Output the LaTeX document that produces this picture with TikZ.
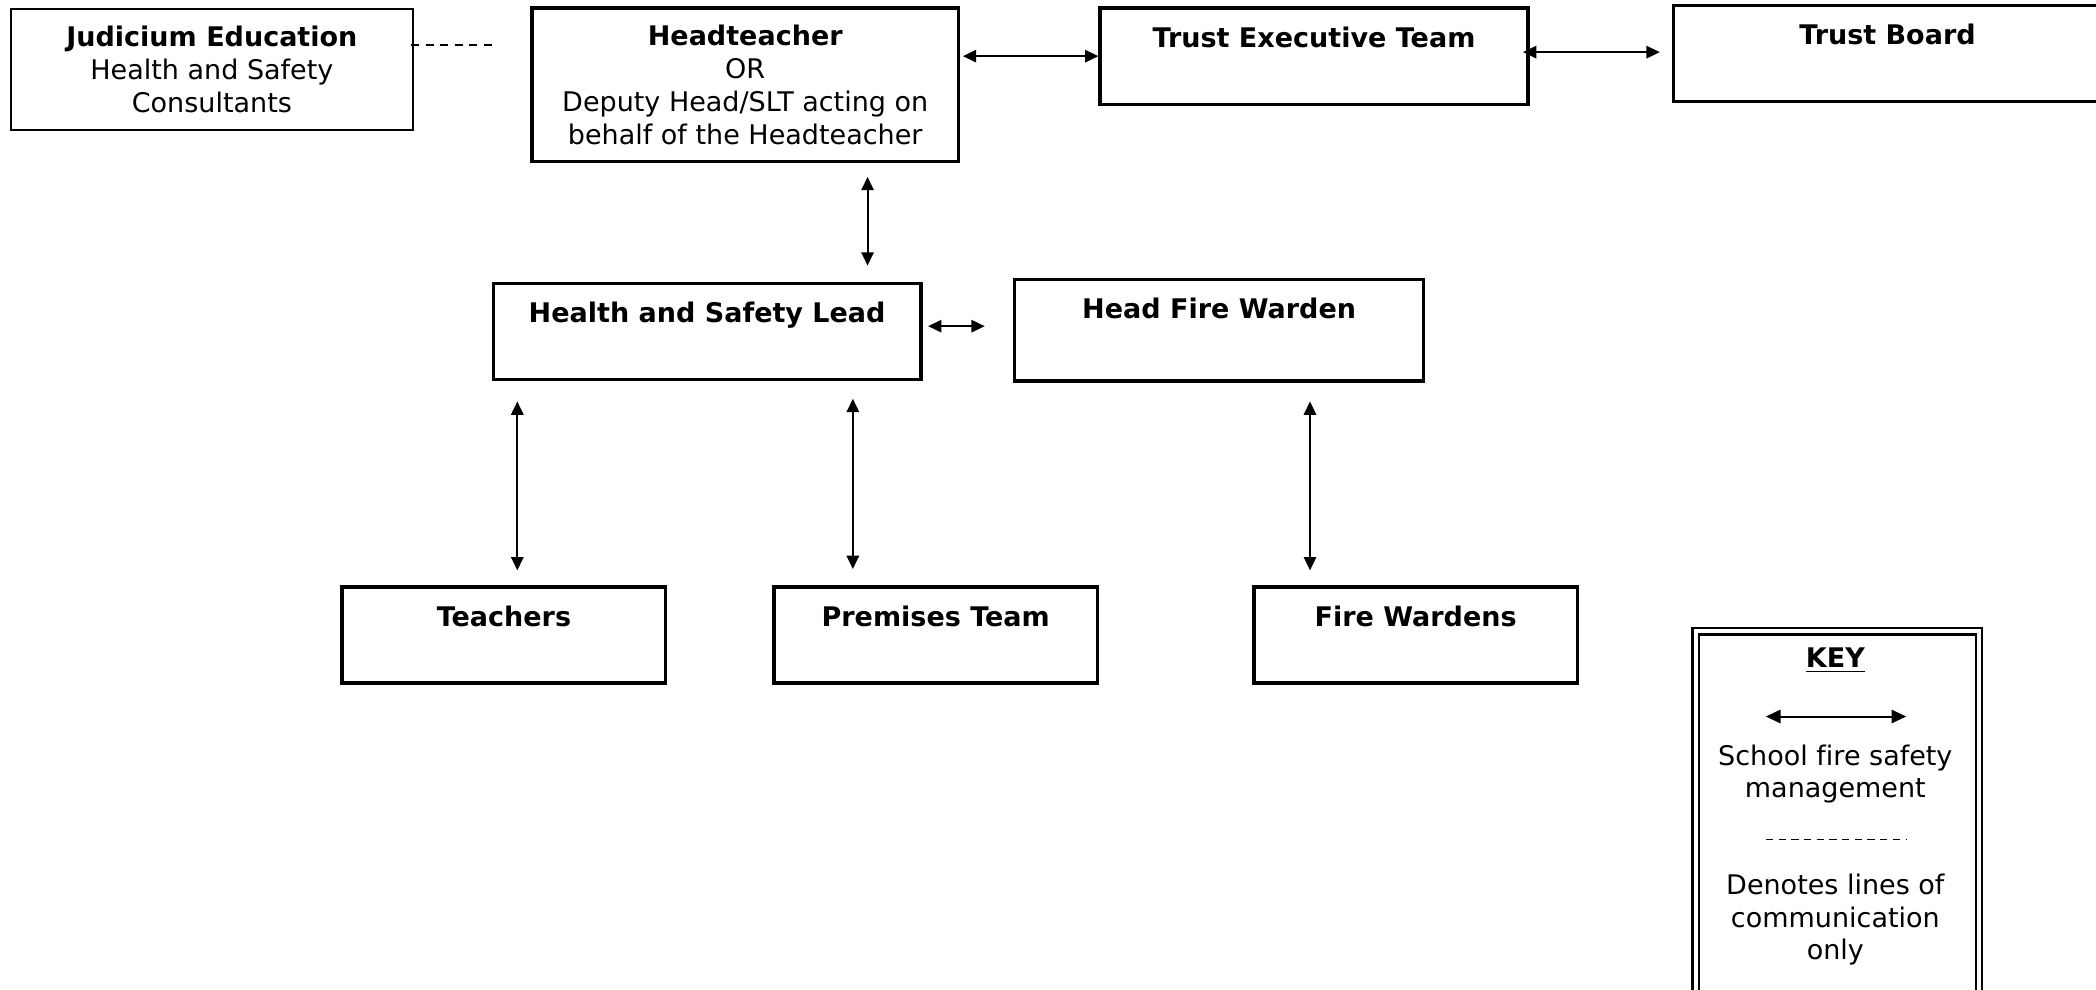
\documentclass[tikz,border=0pt]{standalone}
\usepackage{fontspec}
\setmainfont{DejaVu Sans}[Ligatures=NoCommon]
\usetikzlibrary{arrows.meta,calc}
\begin{document}
\begin{tikzpicture}[x=0.5pt,y=-0.5pt,
  every node/.style={font=\fontsize{10.1}{12.25}\selectfont},
  box/.style={draw, line width=1.3pt, inner sep=0pt},
  thinbox/.style={draw, line width=0.7pt, inner sep=0pt},
  topbox/.style={box, text height=14.75pt, text depth=21.25pt},
  keybox/.style={draw, line width=0.9pt, double, double distance=1.5pt, inner sep=0pt},
  biarrow/.style={<->, >={Triangle[length=5pt,width=4.6pt]}, line width=0.75pt},
  commline/.style={dash pattern=on 3pt off 2.4pt, line width=0.75pt}]
\useasboundingbox (0,0) rectangle (1568,740);
\clip (0,0) rectangle (1568,740);
\fill[white] (0,0) rectangle (1568,740);

\node[thinbox, align=center, minimum width=150.5pt, minimum height=45pt] (jud) at (158.5,52)
  {\textbf{Judicium Education}\\Health and Safety\\Consultants};
\node[box, align=center, minimum width=159.5pt, minimum height=57.5pt] (ht) at (557.5,63.5)
  {\textbf{Headteacher}\\OR\\Deputy Head/SLT acting on\\behalf of the Headteacher};
\node[topbox, minimum width=160pt] (tet) at (983,42) {\textbf{Trust Executive Team}};
\node[topbox, minimum width=160pt] (tb) at (1412,40) {\textbf{Trust Board}};
\node[topbox, minimum width=160pt] (hsl) at (529,248) {\textbf{Health and Safety Lead}};
\node[topbox, text depth=23.25pt, minimum width=153pt] (hfw) at (912,247) {\textbf{Head Fire Warden}};
\node[topbox, minimum width=121pt] (teach) at (377,475) {\textbf{Teachers}};
\node[topbox, minimum width=121pt] (prem) at (700,475) {\textbf{Premises Team}};
\node[topbox, minimum width=121pt] (fw) at (1059,475) {\textbf{Fire Wardens}};

\draw[commline] ($(jud.east)+(-2,-18)$) -- ($(ht.west)+(-26,-29.5)$);
\draw[biarrow] ($(ht.east)+(2,-21.5)$) -- (tet.west);
\draw[biarrow] ($(tet.east)+(-5,-3)$) -- ($(tb.west)+(-9,-1)$);
\draw[biarrow] ($(ht.south)+(91.5,10)$) -- ($(hsl.north)+(120,-12)$);
\draw[biarrow] ($(hsl.east)+(4,-4)$) -- ($(hfw.west)+(-21,-3)$);
\draw[biarrow] ($(hsl.south)+(-142,15)$) -- ($(teach.north)+(10,-11)$);
\draw[biarrow] ($(hsl.south)+(109,13)$) -- ($(prem.north)+(-62,-12)$);
\draw[biarrow] ($(hfw.south)+(68,14)$) -- ($(fw.north)+(-79,-11)$);

\node[keybox, anchor=north west, minimum width=106pt, minimum height=150pt] (key) at (1267.5,471.5) {};
\node (keyt) at (1373,494) {\textbf{\underline{KEY}}};
\coordinate (ka) at (1321,536);
\coordinate (kb) at (1426,536);
\draw[biarrow, >={Triangle[length=5.5pt,width=5pt]}] (ka) -- (kb);
\node[align=center] (k1) at (1373,579) {School fire safety\\management};
\coordinate (kc) at (1321,628);
\coordinate (kd) at (1426,628);
\draw[dash pattern=on 2.75pt off 2pt, line width=0.6pt] (kc) -- (kd);
\node[align=center] (k2) at (1373,688) {Denotes lines of\\communication\\only};
\end{tikzpicture}
\end{document}
